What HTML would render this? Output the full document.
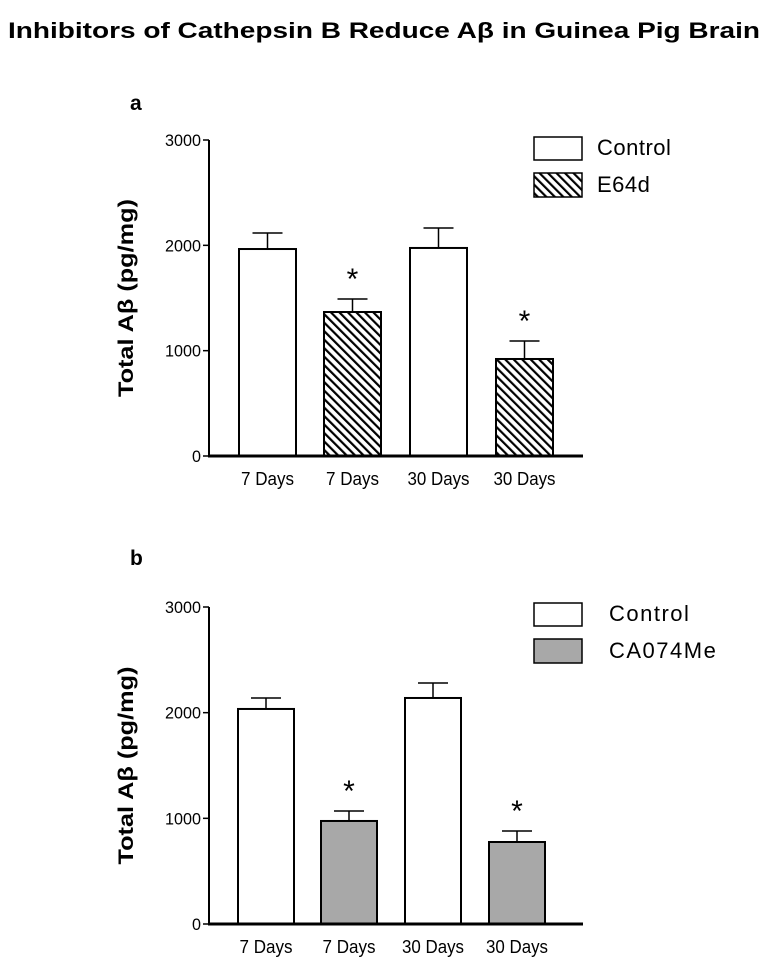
<!DOCTYPE html>
<html><head><meta charset="utf-8"><style>
body{margin:0;background:#fff;width:772px;height:969px;overflow:hidden;font-family:"Liberation Sans",sans-serif}
</style></head><body>
<svg width="772" height="969" xmlns="http://www.w3.org/2000/svg" font-family="Liberation Sans, sans-serif">
<defs>
<pattern id="hatch" patternUnits="userSpaceOnUse" width="6" height="6" patternTransform="rotate(-45)">
<rect width="6" height="6" fill="#fff"/><rect x="0" y="0" width="2.2" height="6" fill="#000"/>
</pattern>
</defs>
<text x="8" y="38" font-size="22" font-weight="bold" textLength="752" lengthAdjust="spacingAndGlyphs">Inhibitors of Cathepsin B Reduce Aβ in Guinea Pig Brain</text>
<g id="chartA"></g>
<g id="chartB"></g>
</svg>
<script>
const categories = ["7 Days","7 Days","30 Days","30 Days"];
const ticks = [0,1000,2000,3000];
const aValues = [1965,1367,1975,921];
const aErrors = [152,123,190,171];
const bValues = [2035,975,2139,776];
const bErrors = [104,94,142,104];
const NS="http://www.w3.org/2000/svg";
function mk(parent,tag,attrs,text){const e=document.createElementNS(NS,tag);for(const k in attrs)e.setAttribute(k,attrs[k]);if(text!==undefined)e.textContent=text;parent.appendChild(e);return e;}
function draw(g,cfg){
  const y=v=>cfg.y0-(v/3000)*(cfg.y0-cfg.y3000);
  const x=i=>cfg.barX[i];
  let el;
  el=mk(g,'text',{x:130,y:cfg.labelY,'font-size':21,'font-weight':'bold'},cfg.letter);
  
  
  const mid=(cfg.y0+cfg.y3000)/2;
  el=mk(g,'text',{x:0,y:0,'font-size':21,'font-weight':'bold','text-anchor':'middle',textLength:198,lengthAdjust:'spacingAndGlyphs',transform:`translate(133,${mid}) rotate(-90)`},'Total Aβ (pg/mg)');
  
  
  el=mk(g,'line',{x1:209,y1:cfg.y3000,x2:209,y2:cfg.y0,stroke:'#000','stroke-width':2});
  
  
  ticks.forEach(t=>{
    el=mk(g,'line',{x1:203,y1:y(t),x2:209,y2:y(t),stroke:'#000','stroke-width':1.5});
    
    
    el=mk(g,'text',{x:201,y:y(t)+6,'font-size':17,'text-anchor':'end',textLength:String(t).length*9,lengthAdjust:'spacingAndGlyphs'},t);
    
    
  });
  const vals=cfg.values, errs=cfg.errors;
  vals.forEach((v,i)=>{
    const cx=x(i)+cfg.barW/2, top=y(v), et=y(v+errs[i]);
    el=mk(g,'line',{x1:cx,y1:top,x2:cx,y2:et,stroke:'#000','stroke-width':1.5});
    
    
    el=mk(g,'line',{x1:cx-15,y1:et,x2:cx+15,y2:et,stroke:'#000','stroke-width':1.5});
    
    
    el=mk(g,'rect',{x:x(i),y:top,width:cfg.barW,height:cfg.y0-top,fill:i%2?cfg.fill:'#fff',stroke:'#000','stroke-width':2});
    
    
    if(i%2){
      el=mk(g,'text',{x:cx,y:et-10,'font-size':30,'text-anchor':'middle'},'*');
      
      
    }
    el=mk(g,'text',{x:cx,y:cfg.y0+29,'font-size':18,'text-anchor':'middle',textLength:categories[i].length>6?62:53,lengthAdjust:'spacingAndGlyphs'},categories[i]);
    
    
  });
  el=mk(g,'line',{x1:208,y1:cfg.y0,x2:583,y2:cfg.y0,stroke:'#000','stroke-width':3});
  
  
  el=mk(g,'rect',{x:534,y:cfg.legY,width:48,height:23,fill:'#fff',stroke:'#000','stroke-width':1.5});
  
  
  el=mk(g,'text',{x:cfg.legTX,y:cfg.legY+18,'font-size':22,'letter-spacing':cfg.ls},'Control');
  
  
  el=mk(g,'rect',{x:534,y:cfg.legY+36,width:48,height:24,fill:cfg.fill,stroke:'#000','stroke-width':1.5});
  
  
  el=mk(g,'text',{x:cfg.legTX,y:cfg.legY+55,'font-size':22,'letter-spacing':cfg.ls},cfg.treat);
  
  
}
draw(document.getElementById('chartA'),{letter:'a',labelY:110,y0:456,y3000:140,barX:[239,324,410,496],barW:57,values:aValues,errors:aErrors,fill:'url(#hatch)',treat:'E64d',legY:137,legTX:597,ls:'0.5'});
draw(document.getElementById('chartB'),{letter:'b',labelY:565,y0:924,y3000:607,barX:[238,321,405,489],barW:56,values:bValues,errors:bErrors,fill:'#a8a8a8',treat:'CA074Me',legY:603,legTX:609,ls:'1.5'});
</script>
</body></html>
